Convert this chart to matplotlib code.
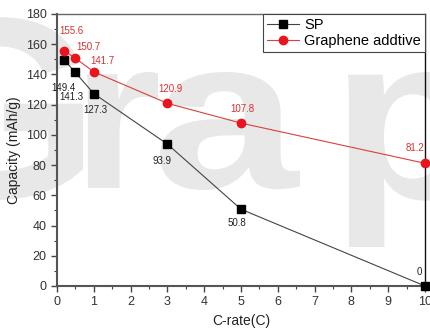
import matplotlib
matplotlib.use("Agg")
import matplotlib.pyplot as plt
from matplotlib.ticker import MultipleLocator
from matplotlib.textpath import TextPath
from matplotlib.patches import PathPatch
from matplotlib.font_manager import FontProperties
from matplotlib.transforms import Affine2D, IdentityTransform

plt.rcParams['font.family'] = ['Liberation Sans', 'DejaVu Sans']

c_rate = [0.2, 0.5, 1, 3, 5, 10]
sp = [149.4, 141.3, 127.3, 93.9, 50.8, 0]
graphene = [155.6, 150.7, 141.7, 120.9, 107.8, 81.2]
sp_labels = ["149.4", "141.3", "127.3", "93.9", "50.8", "0"]
gr_labels = ["155.6", "150.7", "141.7", "120.9", "107.8", "81.2"]
sp_off = [(-1, -20), (-3, -18), (1, -12), (-4, -12), (-3, -10), (-4, 10)]
gr_off = [(5, 14), (9, 8), (6, 8), (2, 10), (1, 10), (-7, 11)]

W, H = 430, 329
fig = plt.figure(figsize=(W / 100, H / 100), dpi=100)

# background watermark letters (decoration), ink boxes in pixels (x0, x1, top, bottom)
wm_letters = ["G", "r", "a", "p"]
wm_boxes = [(-95, 83, 17, 200), (87, 158, 72, 188), (160, 300, 72, 190), (348, 478, 72, 247)]
fp = FontProperties(family='Liberation Sans', weight='bold')
for ch, (x0, x1, t, b) in zip(wm_letters, wm_boxes):
    tp = TextPath((0, 0), ch, size=100, prop=fp)
    ext = tp.get_extents()
    sx = (x1 - x0) / ext.width
    sy = (b - t) / ext.height
    tr = Affine2D().translate(-ext.x0, -ext.y0).scale(sx, sy).translate(x0, H - b)
    patch = PathPatch(tr.transform_path(tp), facecolor='#e8e8e8', edgecolor='none',
                      transform=IdentityTransform(), zorder=-5)
    fig.patches.append(patch)
    patch.set_figure(fig)

ax = fig.add_axes([57 / W, 1 - 286 / H, 368 / W, 272 / H])
ax.patch.set_alpha(0)

ax.plot(c_rate, sp, color='#444444', lw=0.8, marker='s', ms=5.5,
        mfc='black', mec='black', label='SP', clip_on=False, zorder=3)
ax.plot(c_rate, graphene, color='#d94040', lw=0.8, marker='o', ms=6,
        mfc='#e8141e', mec='#e8141e', label='Graphene addtive', clip_on=False, zorder=3)

for x, y, t, o in zip(c_rate, sp, sp_labels, sp_off):
    ax.annotate(t, (x, y), xytext=o, textcoords='offset points', ha='center',
                va='center', fontsize=7, color='#222222', annotation_clip=False)
for x, y, t, o in zip(c_rate, graphene, gr_labels, gr_off):
    ax.annotate(t, (x, y), xytext=o, textcoords='offset points', ha='center',
                va='center', fontsize=7, color='#d83030', annotation_clip=False)

ax.set_xlim(0, 10)
ax.set_ylim(0, 180)
ax.xaxis.set_major_locator(MultipleLocator(1))
ax.xaxis.set_minor_locator(MultipleLocator(0.5))
ax.yaxis.set_major_locator(MultipleLocator(20))
ax.yaxis.set_minor_locator(MultipleLocator(10))
ax.tick_params(which='both', direction='out', colors='#444444', labelsize=9,
               labelcolor='#333333')
ax.tick_params(which='major', length=4, width=1)
ax.tick_params(which='minor', length=2.5, width=0.8)
for s in ['left', 'bottom']:
    ax.spines[s].set_linewidth(1.5)
    ax.spines[s].set_color('#555555')
ax.spines['top'].set_color('#666666')
ax.spines['top'].set_linewidth(1)
ax.spines['right'].set_color('#111111')
ax.spines['right'].set_linewidth(1)

ax.set_xlabel('C-rate(C)', fontsize=10, color='#222222', labelpad=4)
ax.set_ylabel('Capacity (mAh/g)', fontsize=10, color='#222222', labelpad=3)

leg = ax.legend(loc='upper right', fontsize=10.5, frameon=True, fancybox=False,
                borderaxespad=0, handlelength=2.2, borderpad=0.3,
                labelspacing=0.1, handletextpad=0.3)
leg.get_frame().set_edgecolor('#444444')
leg.get_frame().set_linewidth(0.8)
leg.get_frame().set_facecolor('white')
leg.get_frame().set_alpha(1)

fig.savefig('out.png', dpi=100)
